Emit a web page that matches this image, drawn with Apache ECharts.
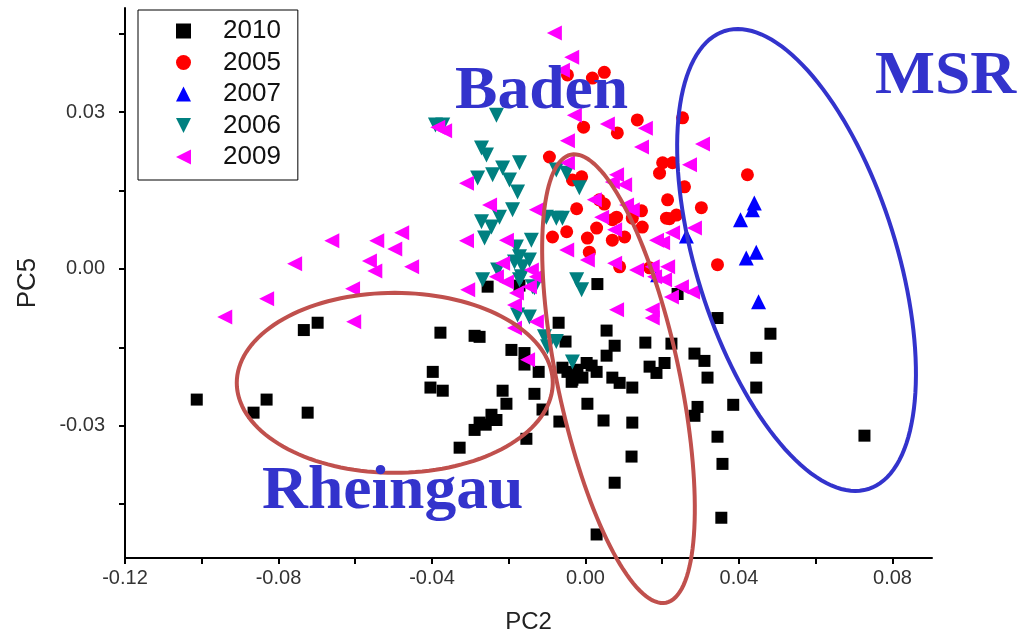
<!DOCTYPE html>
<html>
<head>
<meta charset="utf-8">
<script src="https://cdn.jsdelivr.net/npm/echarts@6/dist/echarts.min.js"></script>
<style>
html,body{margin:0;padding:0;background:#fff;}
#chart{width:1022px;height:641px;}
</style>
</head>
<body>
<div id="chart"></div>
<script>
// ---- data (PC2, PC5) ----
const s2010 = [
[-0.1013,-0.0250],[-0.0865,-0.0275],[-0.0831,-0.0250],[-0.0734,-0.0117],[-0.0698,-0.0103],[-0.0724,-0.0275],
[-0.0398,-0.0197],[-0.0404,-0.0227],[-0.0372,-0.0233],[-0.0378,-0.0122],[-0.0289,-0.0128],[-0.0328,-0.0342],
[-0.0289,-0.0308],[-0.0245,-0.0279],[-0.0232,-0.0289],[-0.0276,-0.0294],[-0.0260,-0.0298],[-0.0216,-0.0233],
[-0.0206,-0.0258],[-0.0193,-0.0155],[-0.0159,-0.0161],[-0.0159,-0.0183],[-0.0133,-0.0239],[-0.0122,-0.0197],
[-0.0112,-0.0269],[-0.0154,-0.0325],[-0.0070,-0.0103],[-0.0068,-0.0292],[-0.0060,-0.0189],[-0.0052,-0.0139],
[-0.0036,-0.0216],[-0.0008,-0.0208],[0.0003,-0.0180],[0.0005,-0.0258],[0.0029,-0.0197],[0.0031,-0.0029],
[0.0029,-0.0508],[0.0047,-0.0290],[0.0055,-0.0118],[0.0055,-0.0166],[0.0070,-0.0208],[0.0076,-0.0147],
[0.0076,-0.0409],[0.0089,-0.0218],[0.0120,-0.0359],[0.0122,-0.0227],[0.0122,-0.0294],[0.0156,-0.0141],
[0.0167,-0.0187],[0.0185,-0.0199],[0.0206,-0.0180],[0.0224,-0.0143],[0.0240,-0.0048],[0.0284,-0.0162],
[0.0284,-0.0281],[0.0292,-0.0264],[0.0310,-0.0176],[0.0318,-0.0208],[0.0344,-0.0094],[0.0344,-0.0321],
[0.0354,-0.0476],[0.0357,-0.0373],[0.0385,-0.0260],[0.0445,-0.0170],[0.0445,-0.0227],[0.0482,-0.0124],
[0.0727,-0.0319],[-0.0276,-0.0130],[-0.0255,-0.0034],[-0.0172,-0.0032],[-0.0047,-0.0197],[-0.0021,-0.0193],
[0.0016,-0.0185],[-0.0034,-0.0212]
];
const s2005 = [
[-0.0047,0.0371],[0.0018,0.0365],[0.0049,0.0376],[0.0135,0.0285],[0.0253,0.0289],[-0.0005,0.0271],
[0.0083,0.0260],[-0.0094,0.0214],[0.0201,0.0203],[0.0227,0.0203],[0.0193,0.0183],[-0.0034,0.0170],
[-0.0010,0.0176],[0.0258,0.0157],[0.0214,0.0132],[0.0302,0.0117],[-0.0023,0.0115],[0.0049,0.0124],
[0.0146,0.0111],[0.0081,0.0099],[0.0122,0.0097],[0.0148,0.0080],[0.0211,0.0097],[0.0237,0.0103],
[0.0029,0.0078],[0.0070,0.0094],[-0.0086,0.0061],[-0.0049,0.0071],[0.0005,0.0059],[0.0070,0.0055],
[0.0102,0.0061],[0.0010,0.0032],[0.0089,0.0004],[0.0344,0.0008],[0.0036,0.0132],[0.0422,0.0180],
[0.0219,0.0096],[0.0167,0.0002]
];
const s2007 = [
[0.0440,0.0126],[0.0435,0.0113],[0.0404,0.0094],[0.0445,0.0032],[0.0419,0.0021],[0.0451,-0.0063],
[0.0263,0.0063],[0.0188,-0.0011]
];
const s2006 = [
[-0.0391,0.0275],[-0.0372,0.0275],[-0.0232,0.0294],[-0.0271,0.0231],[-0.0258,0.0218],[-0.0216,0.0193],
[-0.0172,0.0203],[-0.0242,0.0180],[-0.0281,0.0174],[-0.0198,0.0170],[-0.0177,0.0147],[-0.0076,0.0189],
[-0.0049,0.0183],[-0.0016,0.0155],[-0.0190,0.0113],[-0.0271,0.0090],[-0.0245,0.0080],[-0.0224,0.0099],
[-0.0263,0.0059],[-0.0102,0.0099],[-0.0076,0.0097],[-0.0060,0.0097],[-0.0141,0.0055],[-0.0180,0.0042],
[-0.0172,0.0023],[-0.0146,0.0017],[-0.0164,0.0004],[-0.0268,-0.0021],[-0.0172,-0.0021],[-0.0138,-0.0034],
[-0.0023,-0.0021],[-0.0010,-0.0040],[-0.0229,-0.0002],[-0.0185,0.0013],[-0.0167,-0.0015],[-0.0133,-0.0036],
[-0.0177,-0.0088],[-0.0146,-0.0092],[-0.0107,-0.0130],[-0.0099,-0.0149],[-0.0034,-0.0178],[-0.0076,-0.0139]
];
const s2009 = [
[-0.0479,0.0069],[-0.0661,0.0054],[-0.0544,0.0054],[-0.0497,0.0038],[-0.0310,0.0054],[-0.0758,0.0010],
[-0.0563,0.0015],[-0.0549,-0.0004],[-0.0453,0.0004],[-0.0607,-0.0038],[-0.0307,-0.0040],[-0.0831,-0.0057],
[-0.0940,-0.0092],[-0.0604,-0.0101],[-0.0081,0.0451],[-0.0036,0.0405],[-0.0060,0.0380],[-0.0367,0.0264],
[-0.0029,0.0294],[0.0057,0.0277],[0.0156,0.0269],[0.0146,0.0233],[-0.0047,0.0245],[0.0305,0.0239],
[0.0271,0.0199],[-0.0310,0.0164],[-0.0047,0.0203],[0.0081,0.0180],[0.0102,0.0161],[0.0070,0.0166],
[-0.0250,0.0122],[-0.0128,0.0113],[0.0023,0.0132],[0.0107,0.0122],[0.0122,0.0113],[0.0042,0.0099],
[0.0076,0.0075],[0.0284,0.0078],[0.0227,0.0069],[-0.0206,0.0055],[-0.0049,0.0036],[0.0005,0.0017],
[0.0076,0.0011],[0.0133,-0.0002],[0.0201,0.0050],[0.0214,0.0004],[-0.0216,0.0011],[-0.0232,-0.0015],
[-0.0206,-0.0025],[-0.0146,-0.0034],[0.0250,-0.0034],[0.0174,0.0004],[-0.0141,-0.0002],[-0.0128,-0.0015],
[-0.0185,-0.0069],[-0.0128,-0.0101],[-0.0185,-0.0113],[-0.0151,-0.0174],[0.0180,-0.0015],[0.0279,-0.0044],
[0.0224,-0.0054],[0.0081,-0.0078],[0.0174,-0.0078],[0.0174,-0.0094],[-0.0180,-0.0046],[0.0185,0.0055],
[0.0206,-0.0021],[-0.0385,0.0271]
];
const seriesNames = ['2010','2005','2007','2006','2009'];
const xTicks = [-0.12,-0.10,-0.08,-0.06,-0.04,-0.02,0,0.02,0.04,0.06,0.08];
const xLabels = [-0.12,-0.08,-0.04,0,0.04,0.08];
const yTicks = [-0.045,-0.03,-0.015,0,0.015,0.03,0.045];
const yLabels = [-0.03,0,0.03];
const regionLabels = ['Baden','MSR','Rheingau'];
// annotation ellipses: centre in data units, semi-axes in px, angle of first axis (deg, screen)
const ellipseCentres = [[-0.0497,-0.0218],[0.0086,-0.0210],[0.0550,0.0017]];
const ellipseShape = [
  {a:158, b:90, ang:0, color:'#c0504d'},
  {a:229, b:61, ang:78, color:'#c0504d'},
  {a:240, b:100, ang:72.6, color:'#3333cc'}
];

const chart = echarts.init(document.getElementById('chart'), null, {renderer:'canvas'});
const fmt = v => v.toFixed(2);
const labelFont = {fontFamily:'Liberation Sans, Arial, sans-serif', fontSize:20, color:'#333'};

const scatter = (name, data, symbol, rot, size, color) => ({
  name, type:'scatter', data, symbol, symbolRotate:rot, symbolSize:size,
  itemStyle:{color, opacity:1}, emphasis:{disabled:true}
});
const bigFont = 'bold 62px "Liberation Serif", "Times New Roman", serif';
const textPos = [[455,61],[875,46],[262,461]];

chart.setOption({
  animation:false,
  backgroundColor:'#fff',
  grid:{left:125, right:90, top:8, bottom:83, containLabel:false},
  xAxis:{
    type:'value', min:-0.12, max:0.0903,
    name:'PC2', nameLocation:'middle', nameGap:52,
    nameTextStyle:{fontFamily:'Liberation Sans, Arial, sans-serif', fontSize:24, color:'#222'},
    axisLine:{show:true, onZero:false, lineStyle:{color:'#000', width:2}},
    axisTick:{show:true, inside:false, length:6, lineStyle:{color:'#000', width:2}, customValues:xTicks},
    axisLabel:{show:true, margin:10, formatter:fmt, customValues:xLabels, ...labelFont},
    splitLine:{show:false}
  },
  yAxis:{
    type:'value', min:-0.0553, max:0.0499,
    name:'PC5', nameLocation:'middle', nameGap:84, nameRotate:90,
    nameTextStyle:{fontFamily:'Liberation Sans, Arial, sans-serif', fontSize:26, color:'#222'},
    axisLine:{show:true, onZero:false, lineStyle:{color:'#000', width:2}},
    axisTick:{show:true, inside:false, length:6, lineStyle:{color:'#000', width:2}, customValues:yTicks},
    axisLabel:{show:true, margin:20, formatter:fmt, customValues:yLabels, ...labelFont},
    splitLine:{show:false}
  },
  legend:{
    data:[
      {name:'2010'},
      {name:'2005'},
      {name:'2007'},
      {name:'2006', icon:'path://M0,0L10,0L5,10Z'},
      {name:'2009', icon:'path://M10,0L10,10L0,5Z'}
    ],
    orient:'vertical', left:138, top:10,
    borderColor:'#000', borderWidth:1, padding:[8,17,10,38],
    itemWidth:15, itemHeight:15, itemGap:5.5,
    textStyle:{fontFamily:'Liberation Sans, Arial, sans-serif', fontSize:26, color:'#111', padding:[0,0,0,27]},
    selectedMode:false
  },
  series:[
    scatter('2010', s2010, 'rect', 0, 12, '#000000'),
    scatter('2005', s2005, 'circle', 0, 13, '#ff0000'),
    scatter('2007', s2007, 'triangle', 0, 15, '#0000ff'),
    scatter('2006', s2006, 'triangle', 180, 15, '#008080'),
    scatter('2009', s2009, 'triangle', 90, 15, '#ff00ff'),
    {
      type:'custom', name:'ellipses', data:ellipseCentres, z:10, silent:true,
      renderItem:(params, api) => {
        const c = api.coord([api.value(0), api.value(1)]);
        const e = ellipseShape[params.dataIndex];
        const phi = e.ang*Math.PI/180, pts=[];
        for(let i=0;i<144;i++){
          const t = i/144*2*Math.PI;
          pts.push([c[0]+e.a*Math.cos(t)*Math.cos(phi)-e.b*Math.sin(t)*Math.sin(phi),
                    c[1]+e.a*Math.cos(t)*Math.sin(phi)+e.b*Math.sin(t)*Math.cos(phi)]);
        }
        return {type:'polygon', shape:{points:pts}, style:{fill:null, stroke:e.color, lineWidth:4}};
      }
    }
  ],
  graphic: regionLabels.map((t,i) => ({
    type:'text', x:textPos[i][0], y:textPos[i][1], scaleX:1.025, z:20,
    style:{text:t, font:bigFont, fill:'#3333cc'}
  }))
});
</script>
</body>
</html>
